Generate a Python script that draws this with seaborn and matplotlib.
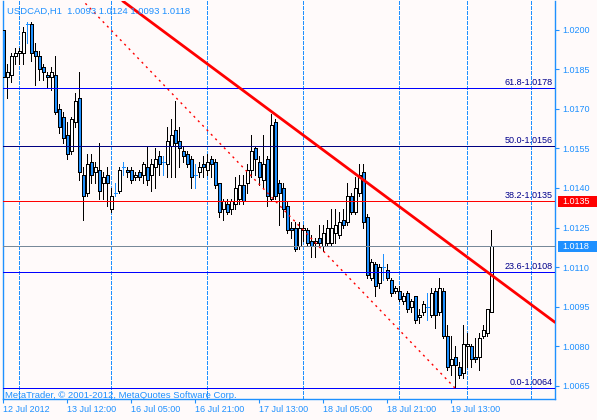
import matplotlib
matplotlib.use("Agg")
import matplotlib.pyplot as plt
import matplotlib.transforms as mtransforms
from matplotlib.patches import Rectangle
import seaborn as sns
import pandas as pd

# -----------------------
# Chart data (USDCAD, H1)
# -----------------------

opens = [1.0200, 1.0182, 1.0183, 1.0190, 1.0191, 1.0191, 1.0202, 1.0202, 1.0192, 1.0190,
         1.0186, 1.0183, 1.0182, 1.0183, 1.0170, 1.0167, 1.0160, 1.0154, 1.0165, 1.0174,
         1.0145, 1.0138, 1.0150, 1.0146, 1.0147, 1.0142, 1.0145, 1.0132, 1.0138, 1.0139,
         1.0148, 1.0147, 1.0147, 1.0144, 1.0146, 1.0145, 1.0148, 1.0145, 1.0148, 1.0152,
         1.0150, 1.0149, 1.0156, 1.0162, 1.0158, 1.0154, 1.0153, 1.0151, 1.0145, 1.0146,
         1.0149, 1.0147, 1.0151, 1.0150, 1.0142, 1.0132, 1.0134, 1.0132, 1.0134, 1.0136,
         1.0141, 1.0142, 1.0147, 1.0155, 1.0150, 1.0143, 1.0151, 1.0136, 1.0165, 1.0142,
         1.0140, 1.0133, 1.0125, 1.0125, 1.0118, 1.0124, 1.0124, 1.0120, 1.0119, 1.0121,
         1.0118, 1.0119, 1.0119, 1.0123, 1.0122, 1.0128, 1.0127, 1.0137, 1.0131, 1.0138,
         1.0146, 1.0129, 1.0106, 1.0111, 1.0104, 1.0110, 1.0109, 1.0105, 1.0101, 1.0101,
         1.0097, 1.0100, 1.0095, 1.0099, 1.0091, 1.0093, 1.0095, 1.0092, 1.0101, 1.0093,
         1.0101, 1.0084, 1.0073, 1.0076, 1.0072, 1.0070, 1.0080, 1.0080, 1.0076, 1.0076,
         1.0084, 1.0085, 1.0093]
highs = [1.0203, 1.0187, 1.0191, 1.0193, 1.0193, 1.0201, 1.0203, 1.0203, 1.0195, 1.0192,
         1.0187, 1.0184, 1.0186, 1.0190, 1.0172, 1.0169, 1.0165, 1.0167, 1.0176, 1.0184,
         1.0148, 1.0153, 1.0153, 1.0150, 1.0157, 1.0146, 1.0148, 1.0140, 1.0142, 1.0148,
         1.0150, 1.0148, 1.0148, 1.0146, 1.0147, 1.0150, 1.0156, 1.0151, 1.0155, 1.0154,
         1.0152, 1.0163, 1.0166, 1.0173, 1.0163, 1.0156, 1.0154, 1.0152, 1.0149, 1.0150,
         1.0152, 1.0153, 1.0152, 1.0151, 1.0142, 1.0136, 1.0136, 1.0136, 1.0144, 1.0145,
         1.0145, 1.0149, 1.0160, 1.0156, 1.0152, 1.0160, 1.0152, 1.0168, 1.0166, 1.0143,
         1.0142, 1.0135, 1.0127, 1.0127, 1.0127, 1.0126, 1.0125, 1.0122, 1.0121, 1.0126,
         1.0126, 1.0128, 1.0132, 1.0132, 1.0131, 1.0132, 1.0142, 1.0138, 1.0144, 1.0149,
         1.0149, 1.0130, 1.0113, 1.0112, 1.0111, 1.0115, 1.0111, 1.0106, 1.0103, 1.0103,
         1.0100, 1.0101, 1.0098, 1.0099, 1.0094, 1.0097, 1.0100, 1.0102, 1.0102, 1.0106,
         1.0102, 1.0088, 1.0084, 1.0080, 1.0074, 1.0088, 1.0085, 1.0081, 1.0083, 1.0085,
         1.0088, 1.0094, 1.0124]
lows = [1.0174, 1.0174, 1.0180, 1.0187, 1.0187, 1.0187, 1.0195, 1.0188, 1.0179, 1.0181,
        1.0181, 1.0178, 1.0177, 1.0168, 1.0161, 1.0157, 1.0151, 1.0153, 1.0163, 1.0143,
        1.0128, 1.0137, 1.0142, 1.0142, 1.0136, 1.0136, 1.0133, 1.0131, 1.0137, 1.0138,
        1.0145, 1.0144, 1.0142, 1.0143, 1.0143, 1.0142, 1.0141, 1.0139, 1.0140, 1.0145,
        1.0145, 1.0144, 1.0144, 1.0144, 1.0148, 1.0150, 1.0148, 1.0140, 1.0140, 1.0144,
        1.0144, 1.0145, 1.0144, 1.0140, 1.0129, 1.0128, 1.0130, 1.0130, 1.0132, 1.0134,
        1.0134, 1.0138, 1.0144, 1.0145, 1.0141, 1.0140, 1.0133, 1.0135, 1.0136, 1.0126,
        1.0129, 1.0123, 1.0121, 1.0116, 1.0117, 1.0120, 1.0118, 1.0114, 1.0114, 1.0118,
        1.0116, 1.0118, 1.0118, 1.0119, 1.0121, 1.0125, 1.0126, 1.0130, 1.0130, 1.0137,
        1.0125, 1.0106, 1.0105, 1.0099, 1.0102, 1.0105, 1.0105, 1.0099, 1.0100, 1.0097,
        1.0096, 1.0093, 1.0093, 1.0089, 1.0089, 1.0092, 1.0090, 1.0091, 1.0087, 1.0092,
        1.0083, 1.0071, 1.0069, 1.0064, 1.0068, 1.0068, 1.0072, 1.0072, 1.0074, 1.0071,
        1.0083, 1.0084, 1.0093]
closes = [1.0182, 1.0184, 1.0190, 1.0191, 1.0192, 1.0199, 1.0202, 1.0191, 1.0190, 1.0185,
          1.0184, 1.0182, 1.0184, 1.0169, 1.0163, 1.0159, 1.0153, 1.0166, 1.0173, 1.0146,
          1.0137, 1.0149, 1.0145, 1.0148, 1.0139, 1.0144, 1.0142, 1.0137, 1.0138, 1.0147,
          1.0148, 1.0146, 1.0143, 1.0145, 1.0144, 1.0149, 1.0143, 1.0149, 1.0151, 1.0149,
          1.0150, 1.0158, 1.0160, 1.0157, 1.0155, 1.0152, 1.0149, 1.0144, 1.0145, 1.0148,
          1.0148, 1.0150, 1.0149, 1.0141, 1.0131, 1.0135, 1.0131, 1.0135, 1.0140, 1.0141,
          1.0135, 1.0147, 1.0154, 1.0151, 1.0144, 1.0149, 1.0137, 1.0164, 1.0137, 1.0138,
          1.0132, 1.0124, 1.0124, 1.0117, 1.0125, 1.0125, 1.0119, 1.0118, 1.0120, 1.0119,
          1.0123, 1.0125, 1.0125, 1.0126, 1.0127, 1.0126, 1.0137, 1.0131, 1.0140, 1.0145,
          1.0127, 1.0107, 1.0112, 1.0103, 1.0110, 1.0110, 1.0106, 1.0100, 1.0102, 1.0098,
          1.0099, 1.0094, 1.0097, 1.0090, 1.0092, 1.0096, 1.0095, 1.0100, 1.0092, 1.0102,
          1.0084, 1.0072, 1.0075, 1.0073, 1.0069, 1.0081, 1.0081, 1.0075, 1.0075, 1.0083,
          1.0086, 1.0094, 1.0118]

time_tick_bars = [0, 16, 32, 48, 64, 80, 96, 112]
time_tick_labels = ["12 Jul 2012", "13 Jul 12:00", "16 Jul 05:00", "16 Jul 21:00",
                    "17 Jul 13:00", "18 Jul 05:00", "18 Jul 21:00", "19 Jul 13:00"]
grid_bars = [4, 27, 51, 75, 99, 116, 132]
price_ticks = [1.0065, 1.0080, 1.0095, 1.0110, 1.0125, 1.0140, 1.0155, 1.0170, 1.0185, 1.0200]

fib_levels = [0.0, 23.6, 38.2, 50.0, 61.8]
fib_prices = [1.0064, 1.0108, 1.0135, 1.0156, 1.0178]
fib_colors = ["#0000FF", "#0000FF", "#FF0000", "#000080", "#0000FF"]

# trend line anchors (bar, price) and fibo anchor line
trend_a = (67, 1.0169)
trend_b = (122, 1.0107)
fibo_bars = [20.5, 113]
fibo_prices = [1.0210, 1.0064]

# -----------------------
# Build frame
# -----------------------

df = pd.DataFrame({"open": opens, "high": highs, "low": lows, "close": closes})
df["bar"] = range(len(df))

up = df[df["close"] > df["open"]]
down = df[df["close"] < df["open"]]
doji = df[df["close"] == df["open"]]
solid = df[df["close"] != df["open"]]

BG = "#FFFAFA"
BLUE = "#1E90FF"
PX = 0.72  # one pixel in points at 100 dpi

sns.set_theme(style="ticks", rc={"axes.facecolor": BG, "figure.facecolor": BG})
plt.rcParams["font.family"] = ["Liberation Sans", "DejaVu Sans"]
FS = 6.5

fig = plt.figure(figsize=(5.97, 4.20), dpi=100)
ax = fig.add_axes([3 / 597, 21 / 420, 552 / 597, 398 / 420])

# -----------------------
# Grid
# -----------------------

for g in grid_bars:
    ax.axvline(g, color=BLUE, lw=PX, ls=(0, (4, 2)), antialiased=False, zorder=1)

# -----------------------
# Candles
# -----------------------

ax.vlines(solid["bar"], solid["low"], solid["high"], color="black", lw=PX,
          antialiased=False, zorder=2)
ax.bar(up["bar"], up["close"] - up["open"], bottom=up["open"], width=0.7,
       facecolor="white", edgecolor="black", linewidth=PX, antialiased=False, zorder=3)
ax.bar(down["bar"], down["open"] - down["close"], bottom=down["close"], width=0.7,
       facecolor=BLUE, edgecolor="black", linewidth=PX, antialiased=False, zorder=3)
ax.vlines(doji["bar"], doji["low"], doji["high"], color=BLUE, lw=PX,
          antialiased=False, zorder=3)
ax.hlines(doji["open"], doji["bar"] - 0.35, doji["bar"] + 0.35, color=BLUE, lw=PX,
          antialiased=False, zorder=3)

# -----------------------
# Objects: fibo, bid line, trend lines
# -----------------------

label_trans = mtransforms.offset_copy(
    mtransforms.blended_transform_factory(ax.transAxes, ax.transData),
    fig=fig, x=-2, y=1, units="dots")

for lvl, p, c in zip(fib_levels, fib_prices, fib_colors):
    ax.axhline(p, color=c, lw=PX, antialiased=False, zorder=4)
    ax.text(1, p, f"{lvl:.1f}-{p:.4f}", transform=label_trans, ha="right", va="bottom",
            color="#00008B", fontsize=FS, zorder=6)

ax.axhline(closes[-1], color="#778899", lw=PX, antialiased=False, zorder=4)

ax.axline(trend_a, trend_b, color="red", lw=2, zorder=5)
sns.lineplot(x=fibo_bars, y=fibo_prices, ax=ax, color="red", lw=1.0,
             dashes=False, zorder=5).lines[-1].set_linestyle((0, (1.5, 3)))

# -----------------------
# Axes styling
# -----------------------

ax.set_xlim(-0.1, 137.9)
ax.set_ylim(1.0060, 1.02109)

ax.spines["top"].set_visible(False)
for s in ["left", "right", "bottom"]:
    ax.spines[s].set_color(BLUE)
    ax.spines[s].set_linewidth(1)

ax.yaxis.tick_right()
ax.set_yticks(price_ticks)
ax.set_yticklabels([f"{v:.4f}" for v in price_ticks])
ax.set_xticks(time_tick_bars)
ax.set_xticklabels(time_tick_labels, ha="left")
ax.tick_params(axis="both", colors=BLUE, labelsize=FS, length=3, width=0.8,
               direction="out", pad=2)
ax.tick_params(axis="x", pad=1.5)
ax.set_xlabel("")
ax.set_ylabel("")

# price labels on the scale
box_trans = mtransforms.blended_transform_factory(fig.transFigure, ax.transData)
px = (1.02109 - 1.0060) / 398
for p, c in [(1.0135, "#FF0000"), (closes[-1], BLUE)]:
    ax.add_artist(Rectangle((558 / 597, p - 5.5 * px), 39 / 597, 11 * px,
                            transform=box_trans, facecolor=c, edgecolor="none",
                            clip_on=False, zorder=10))
    ax.text(562 / 597, p, f"{p:.4f}", transform=box_trans, color="white",
            fontsize=FS, ha="left", va="center", clip_on=False, zorder=11)

# header and footer text
last = df.iloc[-1]
title = (f"USDCAD,H1  {last['open']:.4f} {last['high']:.4f} "
         f"{last['low']:.4f} {last['close']:.4f}")
fig.text(7 / 597, 1 - 11 / 420, title, color=BLUE, fontsize=FS + 0.3, va="center")
fig.text(5 / 597, 1 - 395 / 420, "MetaTrader, © 2001-2012, MetaQuotes Software Corp.",
         color=BLUE, fontsize=FS + 0.3, va="center")

fig.savefig("out.png", dpi=100, facecolor=BG)
plt.close()
